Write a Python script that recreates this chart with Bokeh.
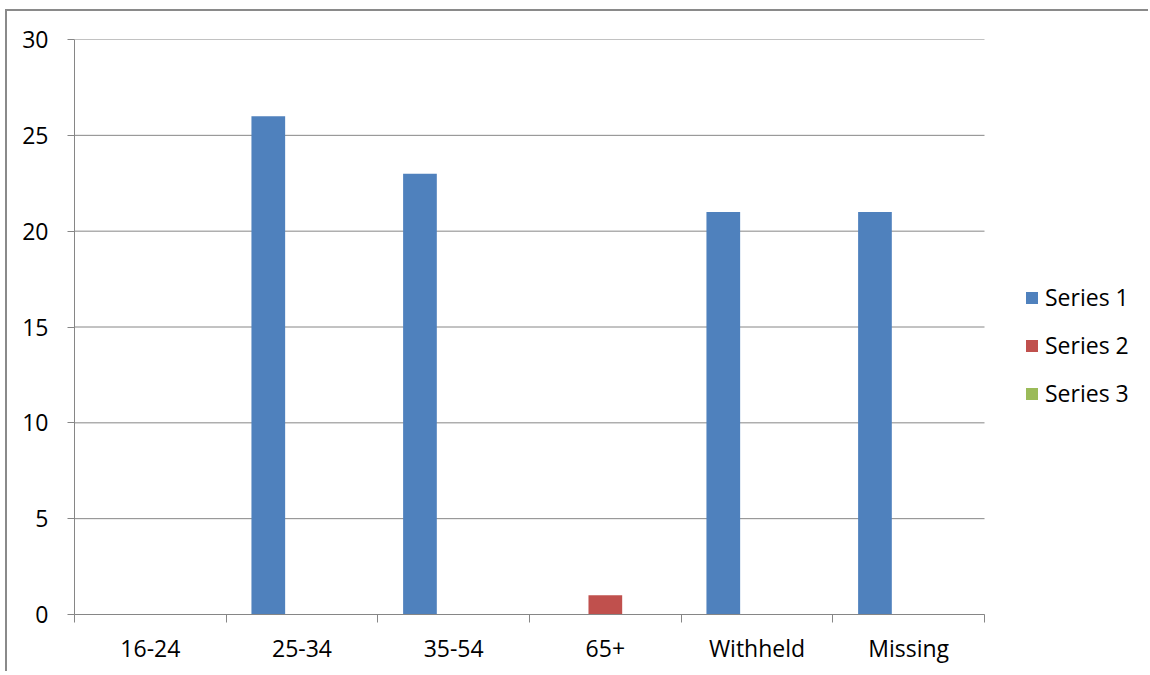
import numpy as np
from bokeh.plotting import figure
from bokeh.models import FixedTicker, Range1d, Legend, LegendItem, ColumnDataSource
from bokeh.embed import file_html
from bokeh.resources import INLINE

categories = ["16-24", "25-34", "35-54", "65+", "Withheld", "Missing"]
series_names = ["Series 1", "Series 2", "Series 3"]
series1 = [0, 26, 23, 0, 21, 21]
series2 = [0, 0, 0, 1, 0, 0]
series3 = [0, 0, 0, 0, 0, 0]
colors = ["#4F81BD", "#C0504D", "#9BBB59"]
y_ticks = [0, 5, 10, 15, 20, 25, 30]

FONT = "Open Sans"
GRID = "#868686"

W, H = 1143, 662
LEFT = 67
PLOT_W = 910  # pixel width of the category area
n = len(categories)
x_end = n * (W - LEFT) / PLOT_W

p = figure(width=W, height=H, output_backend="svg", toolbar_location=None,
           x_range=Range1d(0, x_end), y_range=Range1d(0, 30),
           min_border_left=LEFT, min_border_right=0, min_border_top=28, min_border_bottom=59)
p.styles = {"margin-left": "5px", "margin-top": "9px",
            "border-top": "2px solid #8a8a8a", "border-left": "2px solid #8a8a8a"}
p.outline_line_color = None
p.background_fill_color = "white"
p.border_fill_color = "white"

# horizontal gridlines limited to the category area
p.segment(x0=0, x1=n, y0=y_ticks, y1=y_ticks, line_color=GRID, line_width=1, level="underlay")

centers = np.arange(n) + 0.5
bar_w = 1.0 / 4.5
offsets = [-bar_w, 0.0, bar_w]
renderers = []
for vals, off, col in zip([series1, series2, series3], offsets, colors):
    src = ColumnDataSource(dict(x=centers + off, top=vals))
    r = p.vbar(x="x", top="top", bottom=0, width=bar_w, source=src,
               fill_color=col, line_color=None)
    renderers.append(r)

# x axis
p.xaxis.ticker = FixedTicker(ticks=list(centers), minor_ticks=list(range(n + 1)))
p.xaxis.major_label_overrides = {float(c): lab for c, lab in zip(centers, categories)}
p.xaxis.bounds = (0, n)
p.xaxis.major_tick_out = 0
p.xaxis.major_tick_in = 0
p.xaxis.minor_tick_out = 8
p.xaxis.minor_tick_in = 0
p.xaxis.minor_tick_line_color = GRID
p.xaxis.axis_line_color = GRID
p.xaxis.major_label_text_font = FONT
p.xaxis.major_label_text_font_size = "23px"
p.xaxis.major_label_text_color = "black"
p.xaxis.major_label_standoff = 9

# y axis
p.yaxis.ticker = FixedTicker(ticks=y_ticks, minor_ticks=[])
p.yaxis.major_tick_out = 7
p.yaxis.major_tick_in = 0
p.yaxis.major_tick_line_color = GRID
p.yaxis.axis_line_color = GRID
p.yaxis.major_label_text_font = FONT
p.yaxis.major_label_text_font_size = "23px"
p.yaxis.major_label_text_color = "black"
p.yaxis.major_label_standoff = 19

p.xgrid.grid_line_color = None
p.ygrid.grid_line_color = None

legend = Legend(items=[LegendItem(label=nm, renderers=[r]) for nm, r in zip(series_names, renderers)],
                location=(950, 205), orientation="vertical")
legend.border_line_color = None
legend.background_fill_alpha = 0
legend.label_text_font = FONT
legend.label_text_font_size = "23px"
legend.label_text_color = "black"
legend.glyph_width = 15
legend.glyph_height = 15
legend.label_standoff = 6
legend.label_height = 30
legend.spacing = 16
legend.margin = 0
legend.padding = 10
p.add_layout(legend, "center")

open("out.html", "w").write(file_html(p, INLINE))
